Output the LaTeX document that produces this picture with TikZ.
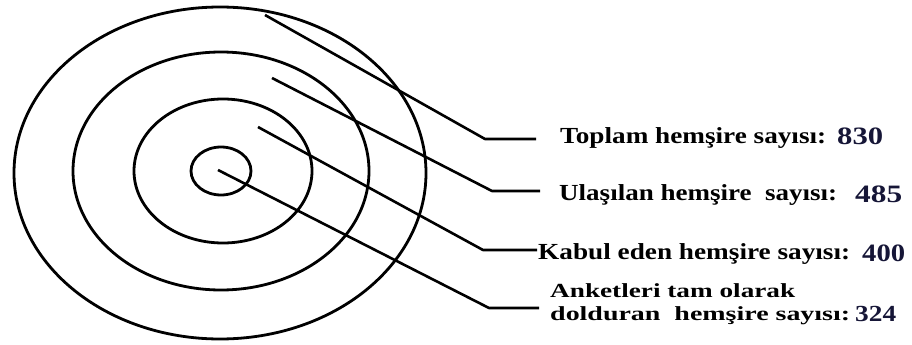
\documentclass[tikz,border=0pt]{standalone}
\usepackage{fontspec}
\setmainfont{Liberation Serif}
\definecolor{numc}{RGB}{22,22,55}
\tikzset{
  ring/.style={line width=2.8pt, draw=black},
  leader/.style={line width=2.6pt, draw=black, line join=round},
  lbl/.style={anchor=base west, inner sep=0pt, font=\bfseries},
  numl/.style={anchor=base west, inner sep=0pt, font=\bfseries, text=numc}
}
\newcommand{\fit}[3]{\resizebox{#1pt}{\height}{\fontsize{#2}{#2}\selectfont #3}}
\begin{document}
\begin{tikzpicture}[x=1pt,y=-1pt]
\useasboundingbox (0,0) rectangle (912,345);
% rings
\draw[ring] (220,173) ellipse [x radius=206, y radius=166];
\draw[ring] (221,171) ellipse [x radius=148, y radius=119];
\draw[ring] (223,171) ellipse [x radius=89, y radius=72];
\draw[ring] (221,171) ellipse [x radius=30, y radius=24];
% leader start and elbow points
\coordinate (s1) at (265,15);  \coordinate (k1) at (485,139); \coordinate (e1) at (536,139);
\coordinate (s2) at (272,78);  \coordinate (k2) at (492,191); \coordinate (e2) at (540,191);
\coordinate (s3) at (258,127); \coordinate (k3) at (483,250); \coordinate (e3) at (537,250);
\coordinate (s4) at (218,170); \coordinate (k4) at (489,308); \coordinate (e4) at (539,308);
% labels
\node[lbl] (t1) at (560,143) {\fit{266}{23}{Toplam hemşire sayısı:}};
\node[numl] (n1) at (837,144) {\fit{46}{25}{830}};
\node[lbl] (t2) at (559,200) {\fit{278}{23}{Ulaşılan hemşire\ \ sayısı:}};
\node[numl] (n2) at (855,202) {\fit{47}{25}{485}};
\node[lbl] (t3) at (538,259) {\fit{312}{23}{Kabul eden hemşire sayısı:}};
\node[numl] (n3) at (862,261) {\fit{43}{25}{400}};
\node[lbl] (t4a) at (550,297) {\fit{245}{20}{Anketleri tam olarak}};
\node[lbl] (t4b) at (550,320) {\fit{300}{20}{dolduran\ \ hemşire sayısı:}};
\node[numl] (n4) at (855,321) {\fit{41}{23}{324}};
% leaders
\draw[leader] (s1) -- (k1) -- (e1);
\draw[leader] (s2) -- (k2) -- (e2);
\draw[leader] (s3) -- (k3) -- (e3);
\draw[leader] (s4) -- (k4) -- (e4);
\end{tikzpicture}
\end{document}
